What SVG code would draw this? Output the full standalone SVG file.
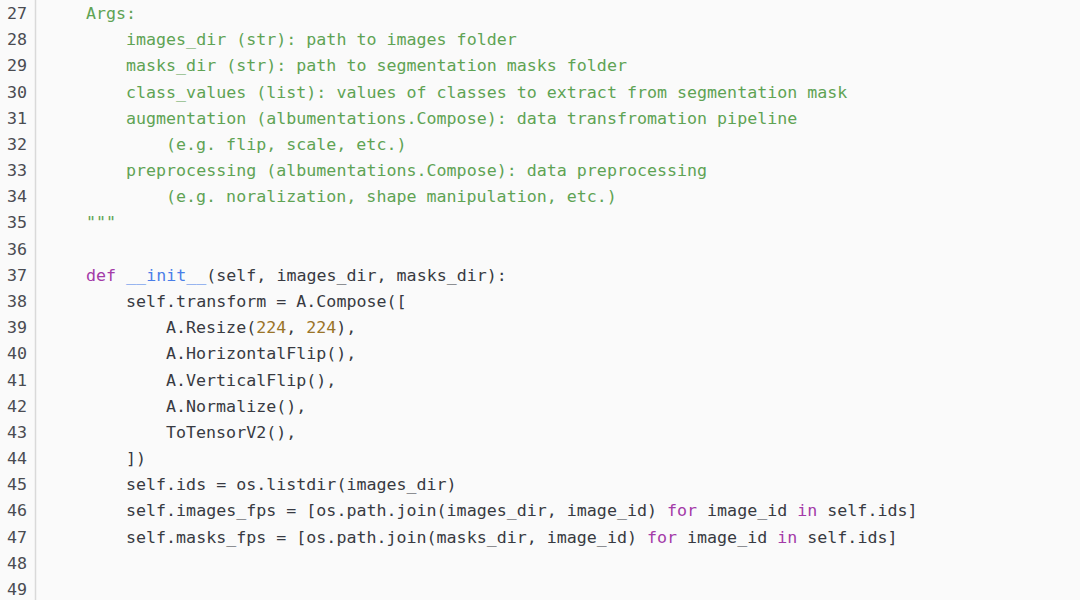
<svg xmlns="http://www.w3.org/2000/svg" width="1080" height="600" viewBox="0 0 1080 600">
<style>
text{font-family:"DejaVu Sans Mono","Liberation Mono",monospace;font-size:16.65px;white-space:pre}
.ln{fill:#4a4c52;text-anchor:end}
.c{fill:#383a42}
.s{fill:#5fa354}
.k{fill:#a43ba8}
.f{fill:#4a7ee8}
.n{fill:#9a7428}
</style>
<rect width="1080" height="600" fill="#fafafa"/>
<line x1="35.5" y1="0" x2="35.5" y2="600" stroke="#d9d9d9" stroke-width="1.5"/>
<g id="line-numbers">
<text class="ln" x="27" y="19">27</text>
<text class="ln" x="27" y="45.2">28</text>
<text class="ln" x="27" y="71.4">29</text>
<text class="ln" x="27" y="97.5">30</text>
<text class="ln" x="27" y="123.7">31</text>
<text class="ln" x="27" y="149.9">32</text>
<text class="ln" x="27" y="176.1">33</text>
<text class="ln" x="27" y="202.3">34</text>
<text class="ln" x="27" y="228.4">35</text>
<text class="ln" x="27" y="254.6">36</text>
<text class="ln" x="27" y="280.8">37</text>
<text class="ln" x="27" y="307">38</text>
<text class="ln" x="27" y="333.2">39</text>
<text class="ln" x="27" y="359.3">40</text>
<text class="ln" x="27" y="385.5">41</text>
<text class="ln" x="27" y="411.7">42</text>
<text class="ln" x="27" y="437.9">43</text>
<text class="ln" x="27" y="464">44</text>
<text class="ln" x="27" y="490.2">45</text>
<text class="ln" x="27" y="516.4">46</text>
<text class="ln" x="27" y="542.6">47</text>
<text class="ln" x="27" y="568.8">48</text>
<text class="ln" x="27" y="595">49</text>
</g>
<g id="code">
<text class="s" x="86" y="19">Args:</text>
<text class="s" x="126" y="45.2">images_dir (str): path to images folder</text>
<text class="s" x="126" y="71.4">masks_dir (str): path to segmentation masks folder</text>
<text class="s" x="126" y="97.5">class_values (list): values of classes to extract from segmentation mask</text>
<text class="s" x="126" y="123.7">augmentation (albumentations.Compose): data transfromation pipeline</text>
<text class="s" x="166" y="149.9">(e.g. flip, scale, etc.)</text>
<text class="s" x="126" y="176.1">preprocessing (albumentations.Compose): data preprocessing</text>
<text class="s" x="166" y="202.3">(e.g. noralization, shape manipulation, etc.)</text>
<text class="s" x="86" y="228.4">"""</text>
<text class="c" x="86" y="280.8"><tspan class="k">def</tspan> <tspan class="f">__init__</tspan>(self, images_dir, masks_dir):</text>
<text class="c" x="126" y="307">self.transform = A.Compose([</text>
<text class="c" x="166" y="333.2">A.Resize(<tspan class="n">224</tspan>, <tspan class="n">224</tspan>),</text>
<text class="c" x="166" y="359.3">A.HorizontalFlip(),</text>
<text class="c" x="166" y="385.5">A.VerticalFlip(),</text>
<text class="c" x="166" y="411.7">A.Normalize(),</text>
<text class="c" x="166" y="437.9">ToTensorV2(),</text>
<text class="c" x="126" y="464">])</text>
<text class="c" x="126" y="490.2">self.ids = os.listdir(images_dir)</text>
<text class="c" x="126" y="516.4">self.images_fps = [os.path.join(images_dir, image_id) <tspan class="k">for</tspan> image_id <tspan class="k">in</tspan> self.ids]</text>
<text class="c" x="126" y="542.6">self.masks_fps = [os.path.join(masks_dir, image_id) <tspan class="k">for</tspan> image_id <tspan class="k">in</tspan> self.ids]</text>
</g>
</svg>
